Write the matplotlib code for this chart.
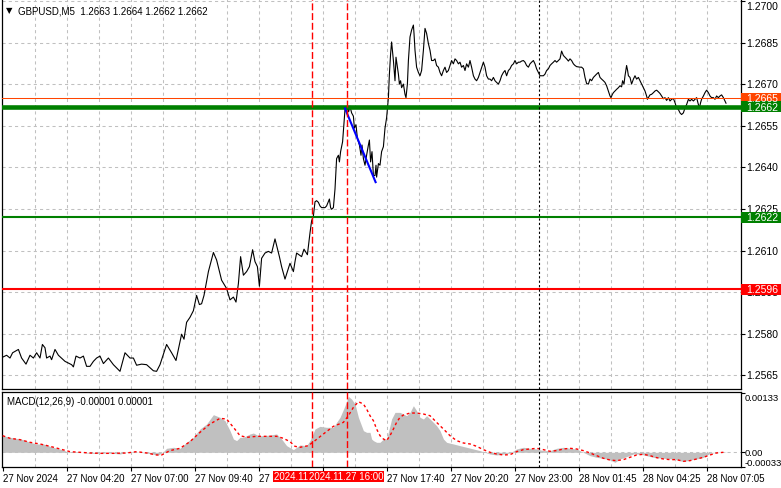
import numpy as np
import matplotlib
matplotlib.use("Agg")
import matplotlib.pyplot as plt
import matplotlib.transforms as mtransforms
from matplotlib.patches import Rectangle

plt.rcParams['font.family'] = ['Liberation Sans', 'DejaVu Sans']
plt.rcParams['font.size'] = 7

W, H = 781, 489

# ---- GBPUSD M5 close at turning points (bar index, price) ----
price_bar = [1.3, 3.3, 5.0, 6.3, 9.2, 10.8, 13.0, 15.0, 16.7, 18.3, 20.0, 21.2, 22.5, 23.3, 25.0, 25.8,
             27.5, 29.2, 32.5, 35.8, 36.7, 38.0, 40.0, 41.7, 43.3, 45.0, 46.7, 48.3, 50.0, 51.7, 54.2,
             56.7, 60.0, 62.5, 65.0, 66.7, 68.3, 70.8, 73.3, 76.7, 78.3, 80.0, 83.3, 85.8, 88.0, 90.8,
             92.0, 93.3, 95.0, 96.7, 98.3, 99.7, 100.8, 102.0, 104.2, 106.7, 108.3, 110.8, 113.3, 115.0,
             116.7, 118.0, 119.2, 120.3, 121.7, 123.3, 124.7, 126.3, 127.5, 128.7, 129.7, 130.8, 132.5,
             134.2, 135.8, 137.5, 139.7, 140.8, 142.5, 145.0, 146.7, 147.5, 148.3, 150.8, 152.0, 153.7,
             155.0, 155.8,
             156.7, 157.5, 158.3, 159.2, 160.0, 160.8, 162.5, 163.3, 164.7, 165.3, 165.8, 166.7, 167.5,
             168.3, 169.2, 169.7, 170.3, 171.3, 171.7, 172.2, 172.5, 173.3, 173.8, 174.3, 175.0, 175.8,
             176.7, 177.2, 178.0, 178.7, 179.7, 180.5, 181.0, 181.7, 182.5, 183.3, 184.2, 184.7, 185.3,
             186.0, 186.7, 187.5, 188.0, 188.3, 189.2, 190.0, 190.8, 191.7, 192.5, 193.3, 194.2, 194.7,
             195.3, 195.8,
             196.7, 197.5, 198.0, 198.7, 199.2, 199.7, 200.3, 200.8, 201.7, 202.5, 203.0, 203.7, 204.2,
             205.0, 205.8, 206.7, 207.0, 207.5, 208.3, 209.2, 210.0, 210.8, 211.7, 212.5, 213.3, 214.2,
             215.0, 215.8, 216.7, 217.5, 218.3, 219.2, 220.0, 220.8, 221.7, 222.5, 223.3, 224.2, 225.0,
             225.8, 226.7, 227.5, 228.3, 229.2, 230.0, 230.8, 231.7, 232.5, 233.3, 234.2, 235.0, 235.8,
             236.7, 237.5, 238.3, 239.2, 240.0, 240.8, 241.7, 242.5, 243.3, 244.2, 245.0, 245.8, 246.7,
             247.5, 248.3, 249.2, 250.0, 250.8, 251.7, 252.5, 253.3, 254.2, 255.0, 255.8, 256.7, 257.5,
             258.3, 259.2, 260.0, 260.8, 261.7, 262.5, 263.3, 264.2, 265.0, 265.8, 266.7, 267.5, 268.3,
             269.2, 270.0, 270.8, 271.7, 272.5, 273.3, 274.2, 275.0, 275.8, 276.7, 277.5, 278.3, 279.2,
             280.0,
             280.8, 281.7, 282.5, 283.3, 284.2, 285.0, 285.8, 286.7, 287.5, 288.3, 290.0, 290.8, 291.7,
             292.5, 293.3, 294.2, 295.0, 295.8, 296.7, 297.5, 298.3, 299.2, 300.0, 300.8, 301.7, 302.5,
             303.3, 304.2, 305.0, 305.5, 306.2, 306.7, 307.5, 308.3, 309.2, 310.0, 310.8, 311.3, 312.0,
             312.5, 313.3, 313.8, 314.2, 315.0, 315.8, 316.7, 317.5, 318.3, 319.2, 320.0, 320.8, 321.7,
             322.5, 323.3, 323.7, 324.2, 325.0, 325.8, 326.7, 327.5, 328.3, 329.2, 330.0, 330.8, 331.7,
             332.5, 333.3, 334.2, 335.0, 335.8, 336.7, 337.5, 338.3, 339.2, 340.0, 340.8, 341.7, 342.5,
             343.3, 344.2, 345.0, 345.8, 346.7, 347.5, 348.3, 349.2, 349.7, 350.3, 350.8, 351.7, 352.5,
             353.3, 354.2, 355.0, 355.8, 356.7, 357.5, 358.3, 359.2, 360.0, 360.8, 361.7, 362.5, 363.0]
price_val = [1.25715, 1.25722, 1.25712, 1.25731, 1.25743, 1.25712, 1.25690, 1.25722, 1.25712, 1.25731,
             1.25712, 1.25761, 1.25749, 1.25712, 1.25719, 1.25706, 1.25743, 1.25722, 1.25700, 1.25688,
             1.25680, 1.25719, 1.25712, 1.25719, 1.25682, 1.25682, 1.25700, 1.25712, 1.25719, 1.25692,
             1.25712, 1.25688, 1.25664, 1.25731, 1.25712, 1.25712, 1.25686, 1.25690, 1.25688, 1.25666,
             1.25664, 1.25688, 1.25761, 1.25731, 1.25703, 1.25798, 1.25780, 1.25841, 1.25859, 1.25883,
             1.25938, 1.25905, 1.25908, 1.25938, 1.26024, 1.26093, 1.26066, 1.25993, 1.25963, 1.25922,
             1.25932, 1.25914, 1.25981, 1.26078, 1.26011, 1.26024, 1.26042, 1.26103, 1.26060, 1.26042,
             1.25971, 1.26072, 1.26091, 1.26097, 1.26091, 1.26142, 1.26078, 1.26042, 1.25997, 1.26054,
             1.26024, 1.26060, 1.26091, 1.26078, 1.26105, 1.26085, 1.26164, 1.26207,
             1.26225, 1.26276, 1.26280, 1.26274, 1.26261, 1.26255, 1.26255, 1.26261, 1.26286, 1.26255,
             1.26249, 1.26255, 1.26322, 1.26432, 1.26444, 1.26420, 1.26457, 1.26493, 1.26530, 1.26579,
             1.26609, 1.26603, 1.26621, 1.26601, 1.26621, 1.26597, 1.26585, 1.26542, 1.26554, 1.26505,
             1.26481, 1.26444, 1.26481, 1.26432, 1.26408, 1.26444, 1.26481, 1.26499, 1.26420, 1.26457,
             1.26371, 1.26371, 1.26408, 1.26365, 1.26414, 1.26408, 1.26457, 1.26475, 1.26542, 1.26579,
             1.26652, 1.26737, 1.26810, 1.26853,
             1.26786, 1.26713, 1.26798, 1.26762, 1.26737, 1.26701, 1.26713, 1.26688, 1.26701, 1.26664,
             1.26652, 1.26701, 1.26786, 1.26871, 1.26896, 1.26914, 1.26884, 1.26823, 1.26762, 1.26743,
             1.26731, 1.26750, 1.26823, 1.26902, 1.26884, 1.26847, 1.26823, 1.26786, 1.26786, 1.26792,
             1.26768, 1.26762, 1.26743, 1.26731, 1.26750, 1.26762, 1.26743, 1.26750, 1.26768, 1.26786,
             1.26774, 1.26792, 1.26786, 1.26774, 1.26780, 1.26762, 1.26768, 1.26750, 1.26774, 1.26762,
             1.26786, 1.26762, 1.26731, 1.26719, 1.26713, 1.26725, 1.26743, 1.26762, 1.26780, 1.26762,
             1.26731, 1.26719, 1.26719, 1.26713, 1.26725, 1.26713, 1.26707, 1.26701, 1.26713, 1.26731,
             1.26743, 1.26750, 1.26731, 1.26750, 1.26756, 1.26768, 1.26774, 1.26786, 1.26774, 1.26780,
             1.26780, 1.26784, 1.26786, 1.26780, 1.26768, 1.26762, 1.26774, 1.26780, 1.26786, 1.26774,
             1.26756, 1.26743, 1.26731, 1.26731, 1.26731, 1.26737, 1.26750, 1.26756, 1.26768, 1.26774,
             1.26780, 1.26786, 1.26780, 1.26786, 1.26792,
             1.26820, 1.26804, 1.26798, 1.26792, 1.26784, 1.26792, 1.26786, 1.26774, 1.26768, 1.26764,
             1.26762, 1.26762, 1.26756, 1.26725, 1.26703, 1.26701, 1.26719, 1.26713, 1.26725, 1.26731,
             1.26737, 1.26743, 1.26725, 1.26719, 1.26713, 1.26707, 1.26695, 1.26676, 1.26658, 1.26652,
             1.26664, 1.26670, 1.26676, 1.26682, 1.26688, 1.26695, 1.26691, 1.26713, 1.26701, 1.26731,
             1.26768, 1.26750, 1.26731, 1.26725, 1.26701, 1.26719, 1.26731, 1.26719, 1.26725, 1.26713,
             1.26701, 1.26688, 1.26676, 1.26658, 1.26646, 1.26652, 1.26662, 1.26664, 1.26670, 1.26676,
             1.26679, 1.26673, 1.26667, 1.26658, 1.26648, 1.26652, 1.26642, 1.26652, 1.26640, 1.26646,
             1.26649, 1.26634, 1.26615, 1.26609, 1.26597, 1.26591, 1.26597, 1.26615, 1.26627, 1.26646,
             1.26640, 1.26646, 1.26640, 1.26646, 1.26652, 1.26627, 1.26615, 1.26634, 1.26646, 1.26658,
             1.26670, 1.26679, 1.26670, 1.26658, 1.26652, 1.26652, 1.26646, 1.26658, 1.26652, 1.26658,
             1.26662, 1.26652, 1.26640, 1.26632]

# blue trend line
trend_bar = [172.5, 187.8]
trend_val = [1.26613, 1.26347]

# horizontal levels: price, colour, width(pt)
level_val = [1.2665, 1.2662, 1.2622, 1.2596]
level_col = ['#ff4500', '#008000', '#008000', '#ff0000']
level_lw = [0.75, 3.3, 1.5, 1.5]

# vertical line objects (bar index)
vline_red = [156.0, 173.65]
vline_red_txt = ['2024.11.27 14:30', '2024.11.27 16:00']
vline_black = [269.5]

# MACD(12,26,9), values in 1e-5
hist_bar = [1.3, 5, 10, 11.7, 15, 18.3, 21.7, 25, 28.3, 31.7, 33.3, 38.3, 43.3, 46.7, 50, 53.3, 56.7,
            60, 63.3, 66.7, 70, 73.3, 76.7, 79.2, 81.7, 83.3, 86.7, 90, 93.3, 96.7, 100, 103.3, 106.7,
            110, 112.5, 115, 116.7, 118.3, 120, 121.7, 125, 126.7, 129.2, 131.7, 135, 138.3, 140.8,
            143.3, 146.7, 150, 153.3, 155, 157.5, 160, 163.3, 166.7, 168.3, 170, 172.5, 174.2, 175.8,
            177.5, 179.2, 181.7, 183.3, 185, 185.8, 186.7, 188.3, 190, 191.7, 193.3, 195, 195.8, 197.5,
            200, 201.7, 203.3, 205, 206.7, 208.3, 210, 211.7, 213.3, 215, 216.7, 218.3, 220, 221.7,
            223.3, 226.7, 230, 233.3, 236.7, 240, 242.5, 245, 248.3, 251.7, 255, 258.3, 261.7, 265,
            268.3, 271.7, 275, 278.3, 281.7, 285, 288.3, 291.7, 295, 298.3, 301.7, 305, 307.5, 310,
            313.3, 316.7, 320, 323.3, 326.7, 331.7, 336.7, 341.7, 345, 348.3, 351.7, 355, 358.3, 361.7,
            363.3]
hist_e5 = [37.5, 33.8, 30, 28.5, 22.5, 18.8, 18.8, 13.5, 9, 5.3, 1.5, 1.5, -1.5, -2.3, -2.3, -1.5, -2.3,
           -3.8, 0, 1.5, 0, -1.5, -4.5, -6, 1.5, 9, 11.3, 9, 22.5, 33.8, 52.5, 63.8, 84.8,
           78.8, 71.3, 48.8, 30, 26.3, 33.8, 33.8, 41.3, 43.5, 37.5, 37.5, 39, 41.3, 30,
           15, 6, 16.5, 15, 26.3, 52.5, 58.5, 56.3, 56.3, 67.5, 78.8, 105, 126, 120,
           108.8, 78.8, 48.8, 45, 45, 30, 26.3, 22.5, 22.5, 30, 30, 60, 75, 90,
           90, 86.3, 82.5, 90, 105, 93.8, 78.8, 75, 82.5, 75, 67.5, 60, 48.8, 30,
           22.5, 18.8, 15, 11.3, 7.5, 3.8, 0, -3.8, -6, -3.8, -1.5, 7.5, 11.3, 9,
           7.5, 3.8, 3.8, 9, 11.3, 9, 7.5, 0, -7.5, -11.3, -13.5, -17.3, -22.5, -15,
           -9.8, -3.8, -3.8, -7.5, -11.3, -13.5, -15, -21, -17.3, -15, -11.3, -2.3, 0, 1.5,
           0]
sig_bar = [1.3, 5, 10, 15, 20, 25, 30, 35, 40, 45, 50, 56.7, 63.3, 68.3, 73.3, 78.3, 80.8, 85, 90, 95,
           100, 105, 110, 113.3, 116.7, 120, 123.3, 128.3, 133.3, 138.3, 141.7, 145, 147.5, 150, 154.2,
           157.5, 161.7, 166.7, 171.7, 174.2, 176.7, 179.2, 181.7, 183.3, 185, 186.7, 188.3, 190, 191.7,
           193.3, 195, 196.7, 198.3, 200, 201.7, 205, 208.3, 211.7, 215, 218.3, 221.7, 225, 228.3, 231.7,
           235, 238.3, 241.7, 245, 248.3, 251.7, 255, 258.3, 261.7, 265, 268.3, 271.7, 275, 278.3, 281.7,
           285, 288.3, 291.7, 295, 298.3, 301.7, 305, 308.3, 311.7, 315, 318.3, 321.7, 325, 328.3, 331.7,
           335, 338.3, 341.7, 345, 348.3, 351.7, 355, 358.3, 361.7]
sig_e5 = [37.5, 31.5, 28.5, 22.5, 18.8, 13.5, 7.5, 1.5, 0, -1.5, -2.3, -2.3, -1.5, 1.5, -1.5, -6, -6, 3.8,
          9, 24, 45, 63.8, 76.5, 75, 56.3, 37.5, 33.8, 36, 36, 36, 31.5, 24, 13.5, 11.3, 15,
          26.3, 41.3, 58.5, 67.5, 82.5, 101.3, 114, 108.8, 97.5, 82.5, 71.3, 52.5, 37.5, 30,
          26.3, 37.5, 52.5, 67.5, 78.8, 84, 88.5, 88.5, 86.3, 82.5, 67.5, 52.5, 37.5, 26.3, 21,
          18.8, 13.5, 6, 0, -3.8, -6, -5.3, 1.5, 6, 7.5, 9, 6, 2.3, 3.8, 7.5,
          9, 7.5, 3.8, -1.5, -7.5, -13.5, -17.3, -18.8, -16.5, -11.3, -6, -4.5, -7.5, -12, -15,
          -16.5, -16.5, -20.3, -18.8, -15, -11.3, -6, -1.5, 0]

price_ticks = [1.2565, 1.2580, 1.2595, 1.2610, 1.2625, 1.2640, 1.2655, 1.2670, 1.2685, 1.2700]
macd_ticks = [0.00133, 0.0, -0.00033]
macd_tick_txt = ['0.00133', '0.00', '-0.00033']
time_labels = ['27 Nov 2024', '27 Nov 04:20', '27 Nov 07:00', '27 Nov 09:40', '27 Nov 12:20',
               '27 Nov 15:00', '27 Nov 17:40', '27 Nov 20:20', '27 Nov 23:00', '28 Nov 01:45',
               '28 Nov 04:25', '28 Nov 07:05']

GRID = '#c0c0c0'
AX_FS = 7.5
fig = plt.figure(figsize=(W / 100, H / 100), dpi=100)
ax = fig.add_axes([2 / W, (H - 390) / H, 739 / W, 390 / H])
ax2 = fig.add_axes([2 / W, 21 / H, 739 / W, 75 / H])

grid_bars = np.arange(17.5, 360, 16)
for a in (ax, ax2):
    a.set_xlim(1, 370.5)
    for b in grid_bars:
        a.axvline(b, color=GRID, lw=0.75, ls=(0, (3, 3)), zorder=0.5)
    for b in vline_red:
        a.axvline(b, color='red', lw=1.0, ls=(0, (5, 2)), zorder=4)
    for b in vline_black:
        a.axvline(b, color='black', lw=0.8, ls=(0, (2, 2)), zorder=4)
    for s in a.spines.values():
        s.set_linewidth(0.9)
        s.set_color('black')

# ---------- main chart ----------
ax.set_ylim(1.256002, 1.270081)
for p in price_ticks:
    ax.axhline(p, color=GRID, lw=0.75, ls=(0, (3, 3)), zorder=0.5)
ax.plot(price_bar, price_val, color='black', lw=0.8, zorder=2)
for v, c, lw in zip(level_val, level_col, level_lw):
    ax.axhline(v, color=c, lw=lw, zorder=3)
ax.plot(trend_bar, trend_val, color='#0000ff', lw=1.5, zorder=3.5)
ax.spines['top'].set_visible(False)
ax.set_xticks([])
ax.yaxis.tick_right()
ax.set_yticks(price_ticks)
ax.set_yticklabels([''] * len(price_ticks))
ax.tick_params(axis='y', length=3, width=0.8)

tr = mtransforms.blended_transform_factory(ax.transAxes, ax.transData)
for p in price_ticks:
    ax.text(1.0 + 5 / 739, p, f'{p:.4f}', transform=tr, fontsize=AX_FS, ha='left',
            va='top' if p == price_ticks[-1] else 'center', clip_on=False)
for v, c in zip(level_val, level_col):
    ax.add_patch(Rectangle((1.0, v - 0.0002), 40 / 739, 0.0004, transform=tr, facecolor=c,
                           edgecolor='none', clip_on=False, zorder=6))
    ax.text(1.0 + 5 / 739, v, f'{v:.4f}', transform=tr, color='white', va='center', ha='left',
            fontsize=AX_FS, clip_on=False, zorder=7)

# ---------- MACD ----------
ax2.set_ylim(-0.000331, 0.001359)
ax2.axhline(0, color=GRID, lw=0.75, ls=(0, (3, 3)), zorder=0.5)
ax2.fill_between(hist_bar, np.array(hist_e5) * 1e-5, 0, color='#c0c0c0', lw=0, zorder=1)
ax2.plot(sig_bar, np.array(sig_e5) * 1e-5, color='red', lw=1.0, ls=(0, (2, 2)), zorder=3)
ax2.yaxis.tick_right()
ax2.set_yticks(macd_ticks)
ax2.set_yticklabels(['', '', ''])
ax2.tick_params(axis='y', length=3, width=0.8)
tr2 = mtransforms.blended_transform_factory(ax2.transAxes, ax2.transData)
for v, s, va in zip(macd_ticks, macd_tick_txt, ['top', 'center', 'bottom']):
    ax2.text(1.0 + 4 / 739, v, s, transform=tr2, va=va, ha='left', fontsize=6.8, clip_on=False)

ax2.set_xticks(np.arange(1.5, 360, 32))
ax2.set_xticklabels(time_labels, ha='left')
ax2.tick_params(axis='x', length=3, width=0.8, pad=1.5, labelsize=7)

# vertical-line time stamps at the bottom
for i, (b, s) in enumerate(zip(vline_red, vline_red_txt)):
    cx = 2 + (b - 1) * 2 - 1
    fig.add_artist(Rectangle(((cx - 38) / W, (H - 483) / H), 76 / W, 11 / H,
                             transform=fig.transFigure, facecolor='red', edgecolor='none',
                             zorder=10 + 2 * i))
    fig.text(cx / W, 1 - 477.5 / H, s, color='white', ha='center', va='center', zorder=11 + 2 * i)

fig.text(6 / W, 1 - 11 / H, '\u25bc', fontsize=6, va='center', family='DejaVu Sans')
fig.text(18 / W, 1 - 11 / H, 'GBPUSD,M5  1.2663 1.2664 1.2662 1.2662', va='center')
fig.text(7 / W, 1 - 402.5 / H, 'MACD(12,26,9) -0.00001 0.00001', va='center')

fig.savefig('out.png', dpi=100)
